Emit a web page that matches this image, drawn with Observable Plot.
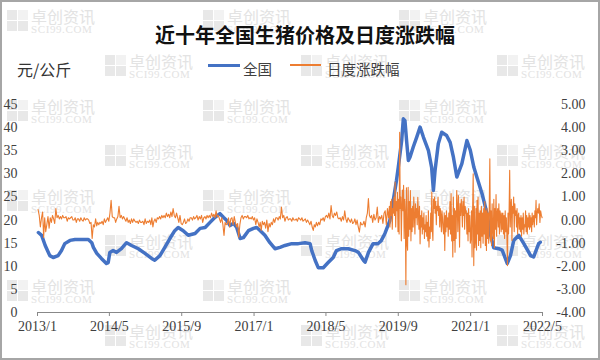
<!DOCTYPE html>
<html><head><meta charset="utf-8">
<script src="https://cdn.jsdelivr.net/npm/d3@7"></script>
<script src="https://cdn.jsdelivr.net/npm/@observablehq/plot@0.6"></script>
<style>
html,body{margin:0;padding:0;background:#fff;}
#wrap{position:relative;width:600px;height:360px;overflow:hidden;background:#fff;}
#frame{position:absolute;left:0;top:0;width:600px;height:360px;box-sizing:border-box;border:2px solid #a6a6a6;pointer-events:none;}
.wmk{position:absolute;width:100px;height:28px;}
.ic{position:absolute;left:0;top:2px;width:21px;height:21px;}
.ic span{position:absolute;width:10px;height:10px;background:#e8e8e8;}
.cn{position:absolute;left:24px;top:0px;font:16px/1 "Noto Sans CJK SC";color:#e3e3e3;white-space:nowrap;}
.en{position:absolute;left:24px;top:16px;font:11px/1 "Liberation Serif";color:#e3e3e3;white-space:nowrap;letter-spacing:0.6px;}
#chart{position:absolute;left:0;top:0;}
.t{position:absolute;white-space:nowrap;line-height:1;}
</style></head>
<body>
<div id="wrap">
  <div id="wm"></div>
  <div id="chart"></div>
  <div class="t" id="title" style="left:5px;width:600px;top:20px;text-align:center;font:700 20px 'Noto Sans CJK SC';color:#111;">近十年全国生猪价格及日度涨跌幅</div>
  <div class="t" style="left:17px;top:57px;font:16px 'Noto Sans CJK SC';color:#333;">元/公斤</div>
  <div style="position:absolute;left:208px;top:64px;width:32px;height:3px;background:#4472C4;"></div>
  <div class="t" style="left:243px;top:58px;font:14.5px 'Noto Sans CJK SC';color:#404040;">全国</div>
  <div style="position:absolute;left:290px;top:64px;width:31px;height:2px;background:#ED7D31;"></div>
  <div class="t" style="left:327px;top:58px;font:14.5px 'Noto Sans CJK SC';color:#404040;">日度涨跌幅</div>
  <div id="frame"></div>
</div>
<script>
// ---- data ----
const xTickLabels = ["2013/1","2014/5","2015/9","2017/1","2018/5","2019/9","2021/1","2022/5"];
const leftTicks = [0,5,10,15,20,25,30,35,40,45];
const rightTickLabels = ["-4.00","-3.00","-2.00","-1.00","0.00","1.00","2.00","3.00","4.00","5.00"];

// national hog price (元/公斤)
const priceDates = ["2013-01-07","2013-01-29","2013-02-22","2013-03-25","2013-04-17","2013-05-20","2013-06-12","2013-07-04","2013-08-08","2013-09-11","2013-10-25","2013-12-10",
"2014-01-02","2014-01-13","2014-02-05","2014-03-08","2014-04-11","2014-04-23","2014-05-04","2014-05-26","2014-06-18","2014-07-21","2014-08-25","2014-09-28","2014-11-12","2014-12-27",
"2015-02-10","2015-03-03","2015-04-07","2015-05-10","2015-06-13","2015-07-16","2015-08-08","2015-09-11","2015-10-15","2015-11-30",
"2016-01-03","2016-02-06","2016-03-10","2016-04-13","2016-05-16","2016-06-08","2016-07-01","2016-07-23","2016-08-15","2016-09-06","2016-09-29","2016-10-21","2016-11-24","2016-12-28",
"2017-01-19","2017-02-12","2017-03-15","2017-04-18","2017-05-22","2017-06-25","2017-07-29","2017-09-12","2017-10-27","2017-12-11",
"2018-01-14","2018-01-25","2018-02-17","2018-03-10","2018-04-13","2018-05-16","2018-06-19","2018-07-11","2018-08-14","2018-09-29","2018-11-13","2018-12-06",
"2019-01-09","2019-01-20","2019-02-12","2019-03-15","2019-04-18","2019-05-10","2019-06-03","2019-07-06","2019-07-29","2019-08-20","2019-09-01","2019-09-24","2019-10-05","2019-10-16","2019-10-27","2019-11-08","2019-11-19","2019-12-11",
"2020-01-03","2020-01-26","2020-02-18","2020-03-22","2020-04-13","2020-04-25","2020-05-06","2020-05-28","2020-06-20","2020-07-23","2020-08-16","2020-09-07","2020-09-30","2020-11-03","2020-12-07","2020-12-30",
"2021-01-23","2021-02-12","2021-03-19","2021-04-22","2021-05-13","2021-06-06","2021-07-10","2021-08-02","2021-09-05","2021-09-27","2021-10-19","2021-11-22","2021-12-26",
"2022-02-10","2022-03-02","2022-04-05","2022-04-16"];
const priceValues = [17.3,16.7,14.5,12.3,11.9,12.3,13.4,14.9,15.6,15.8,15.8,15.8,
15.1,14.1,12.8,11.7,10.6,10.8,13.0,13.4,13.0,13.8,15.1,14.5,13.8,12.8,
11.7,11.3,12.3,14.1,16.0,17.7,18.4,17.7,16.7,17.1,
18.2,18.4,19.5,20.6,21.4,20.6,19.9,18.8,19.3,18.4,16.0,16.2,17.7,18.2,
18.4,17.7,16.7,15.1,13.8,14.1,14.5,14.9,14.9,15.1,
14.9,13.4,11.3,9.7,9.7,10.8,11.9,13.4,13.8,13.8,13.4,13.0,
11.3,10.9,13.0,14.9,14.9,15.6,17.1,19.9,24.2,28.6,31.4,37.2,41.9,41.5,37.2,32.9,33.6,35.8,
37.9,40.1,37.9,35.1,31.4,26.4,30.7,36.5,39.0,38.3,36.8,33.6,29.3,32.2,37.2,35.1,
31.4,29.3,25.7,21.4,17.1,14.0,13.8,13.5,10.6,12.3,15.6,16.7,14.9,
12.3,12.0,14.9,15.2];

// daily change (%), grouped by month starting 2013/1
const changeByMonth = [
[0.45,0.2,-0.3,0.1],[0.35,-0.75,0.1,-0.5],[-0.2,0.15,-0.35,0.1],[-0.1,0.2,0.05,-0.15],[0.5,0.1,0.2,0.05],[0.15,0.05,0.2,0.1],
[0.1,0.15,-0.05,0.1],[0.05,0.1,0.15,0.0],[0.0,0.1,-0.1,0.05],[0.05,-0.05,0.1,0.0],[-0.05,0.1,0.0,0.05],[0.05,0.0,-0.15,-0.1],
[-0.8,-0.2,-0.3,0.05],[-0.25,-0.1,-0.2,-0.1],[-0.15,-0.05,-0.2,0.05],[-0.1,0.0,0.1,-0.05],[0.3,0.85,0.15,0.1],[0.1,-0.1,0.05,0.15],
[0.6,0.1,0.2,0.05],[0.15,0.05,-0.05,0.1],[-0.1,0.0,-0.15,0.05],[-0.1,0.05,-0.05,-0.1],[-0.05,-0.15,0.0,-0.1],[-0.1,-0.05,-0.2,0.05],
[-0.15,-0.05,-0.1,0.0],[-0.2,0.1,-0.3,-0.05],[0.05,-0.1,0.1,0.05],[0.15,0.05,0.2,0.1],[0.2,0.1,0.3,0.15],[0.25,0.1,0.35,0.15],
[0.5,0.2,0.1,0.3],[0.1,-0.1,0.2,-0.15],[-0.2,-0.1,0.05,-0.15],[-0.1,0.05,-0.05,0.1],[0.1,0.0,0.15,0.05],[0.1,0.2,0.0,0.15],
[0.05,0.2,-0.1,0.1],[0.15,0.05,0.2,0.1],[0.2,0.1,0.3,0.15],[0.25,0.1,0.4,0.15],[0.2,0.05,-0.1,0.1],[-0.2,-0.67,-0.1,-0.2],
[-0.15,0.1,-0.3,0.05],[0.1,-0.2,0.15,-0.1],[-0.3,-0.15,-0.74,-0.2],[0.1,0.2,0.05,0.15],[0.15,0.1,0.2,0.05],[0.1,0.05,0.15,0.0],
[0.1,-0.2,0.05,-0.1],[-0.3,-0.1,-0.45,-0.05],[-0.2,-0.1,-0.35,0.0],[-0.5,-0.15,-0.3,-0.1],[-0.2,0.05,-0.1,0.1],[0.1,0.0,0.15,0.05],
[0.56,0.1,0.2,-0.05],[0.1,0.15,0.0,0.05],[0.05,-0.05,0.1,0.0],[0.0,0.05,-0.05,0.1],[0.05,0.0,0.1,-0.05],[0.0,0.05,-0.1,0.0],
[-0.1,-0.2,-0.05,-0.3],[-0.45,-0.2,-0.3,-0.1],[-0.25,-0.1,-0.2,0.05],[0.0,0.1,-0.05,0.15],[0.2,0.1,0.3,0.05],[0.63,0.2,0.1,0.3],
[0.2,0.35,0.1,0.05],[0.1,-0.05,0.15,0.0],[0.4,0.05,-0.1,0.1],[0.0,-0.1,0.05,-0.15],[-0.1,0.05,-0.2,0.0],[-0.3,-0.52,-0.1,-0.2],
[-0.2,-0.05,-0.3,0.1],[0.3,0.93,0.2,0.1],[0.2,-0.1,0.25,0.0],[0.1,0.56,-0.1,0.15],[0.05,0.2,-0.15,0.3],[0.4,-0.2,0.5,0.1],
[0.6,-0.3,0.8,0.2,0.9,-0.4,0.5,0.3],[1.0,0.2,1.64,-0.3,0.8,0.4,1.2,-0.5],[0.9,-0.6,3.8,0.5,1.0,-0.9,0.6,1.3],
[0.4,1.5,-0.8,0.9,0.3,-2.8,1.4,-1.0],[-1.3,1.42,-0.7,0.8,-0.4,1.28,-0.9,0.5],[-0.5,0.6,-0.3,1.0,0.2,-0.6,0.7,0.1],
[0.5,-0.2,0.99,0.3,-0.4,0.6,-1.03,0.2],[-0.3,0.4,-0.6,0.1,-0.4,0.3,-0.8,-0.2],[-0.5,0.2,-0.7,-0.1,-0.9,0.4,-1.17,-0.3],
[-0.8,0.3,-0.5,1.21,-0.4,-0.88,0.9,0.5],[1.0,0.3,0.8,-0.2,0.6,0.4,1.0,0.2],[0.6,-0.3,0.5,0.2,-0.5,0.4,0.1,-0.4],
[-0.6,0.3,-1.32,0.2,-0.5,0.4,-0.3,0.1],[-0.7,0.3,-0.4,0.8,-0.6,1.15,-0.9,0.2],[-1.6,1.0,-0.88,0.5,-1.39,0.4,-0.8,1.28],
[0.6,-0.5,1.06,0.3,-1.17,0.7,0.2,0.9],[0.5,-0.3,0.8,0.2,1.0,-0.4,0.6,0.3],[0.4,-0.6,0.3,-0.9,0.5,-0.5,0.2,-1.0],
[-0.8,0.4,-1.6,0.5,2.0,-1.97,0.6,-1.2],[-0.9,0.5,-1.3,0.85,-0.6,0.99,-1.1,0.3],[-0.88,0.4,-1.2,0.6,-0.7,0.3,-1.0,0.5],
[-0.6,0.8,-1.1,0.4,-1.32,0.5,-0.8,0.3],[-1.0,0.6,2.65,-0.9,0.4,-1.1,0.7,-0.5],[-0.8,0.9,-1.2,0.5,-0.4,1.1,-0.7,0.3],
[0.5,-0.3,0.7,-0.6,0.4,0.2,-0.5,0.3],[-0.4,0.3,-0.6,0.2,-0.8,0.4,-0.5,0.1],[-0.7,-1.97,0.3,-0.6,0.5,2.15,-0.3,0.6],
[0.9,-0.88,0.6,0.3,1.0,-0.5,0.7,0.2],[0.4,-0.3,0.5,-0.6,0.2,0.3,-0.4,0.1],[-0.5,0.2,-0.7,0.1,-0.4,0.3,-0.6,-0.2],
[-0.3,0.4,-0.5,0.2,-0.6,0.1,-0.3,0.3],[-0.4,0.2,-0.3,0.1,-0.5,0.3,-0.2,0.1],[0.2,-0.3,0.4,0.1,0.85,-0.2,0.3,0.5],
[0.3,0.7,-0.1,0.4,0.2,0.1]
];

// ---- build tables ----
const parseDay = s => { const [y,m,d] = s.split("-").map(Number); return new Date(Date.UTC(y, m-1, d)); };
const priceData = priceDates.map((s,i) => ({date: parseDay(s), value: priceValues[i]}));
const changeData = [];
changeByMonth.forEach((vals, m) => {
  const y = 2013 + Math.floor(m/12), mo = m % 12;
  const start = Date.UTC(y, mo, 1), end = Date.UTC(y, mo+1, 1);
  vals.forEach((v,i) => changeData.push({date: new Date(start + (i+0.5)/vals.length*(end-start)), value: v}));
});
const xTicks = xTickLabels.map(s => { const [y,m] = s.split("/").map(Number); return new Date(Date.UTC(y, m-1, 1)); });
// right axis (-4..5) mapped onto left scale (0..45)
const toLeft = v => (v + 4) * 5;

// ---- watermarks ----
const wm = document.getElementById("wm");
const rows = [[8,[7,203,399]],[53,[105,301,497]],[98,[7,203,399]],[143,[105,301,497]],[188,[7,203,399]],[233,[105,301,497]],[278,[7,203,399]],[323,[105,301,497]]];
rows.forEach(([top, xs]) => xs.forEach(left => {
  const d = document.createElement("div");
  d.className = "wmk"; d.style.left = left + "px"; d.style.top = top + "px";
  d.innerHTML = '<div class="ic"><span style="left:0;top:0"></span><span style="left:11px;top:0;background:#f2f2f2"></span><span style="left:0;top:11px"></span><span style="left:11px;top:11px"></span></div><div class="cn">卓创资讯</div><div class="en">SCI99.COM</div>';
  wm.appendChild(d);
}));

// ---- chart ----
const chart = Plot.plot({
  width: 600, height: 360,
  marginTop: 104, marginBottom: 48, marginLeft: 37, marginRight: 58,
  style: {fontFamily: "'Liberation Serif', serif", fontSize: "14px", color: "#404040", background: "transparent", overflow: "visible"},
  x: {type: "utc", domain: [new Date(Date.UTC(2013,0,1)), new Date(Date.UTC(2022,4,1))]},
  y: {domain: [0, 45]},
  marks: [
    Plot.axisX(xTicks, {tickFormat: d => `${d.getUTCFullYear()}/${d.getUTCMonth()+1}`, tickSize: 4, tickPadding: 5, stroke: "#888", fontSize: 14, label: null}),
    Plot.axisY(leftTicks, {anchor: "left", tickSize: 0, tickPadding: 20, fontSize: 14, label: null}),
    Plot.axisY(leftTicks, {anchor: "right", tickSize: 0, tickPadding: 43, textAnchor: "end", fontSize: 14, label: null,
      tickFormat: d => rightTickLabels[leftTicks.indexOf(d)]}),
    Plot.ruleY([0], {stroke: "#888", strokeWidth: 1}),
    Plot.line(priceData, {x: "date", y: "value", stroke: "#4472C4", strokeWidth: 3.5, strokeLinejoin: "round"}),
    Plot.line(changeData, {x: "date", y: d => toLeft(d.value), stroke: "#ED7D31", strokeWidth: 1.1})
  ]
});
document.getElementById("chart").appendChild(chart);
</script>
</body></html>
